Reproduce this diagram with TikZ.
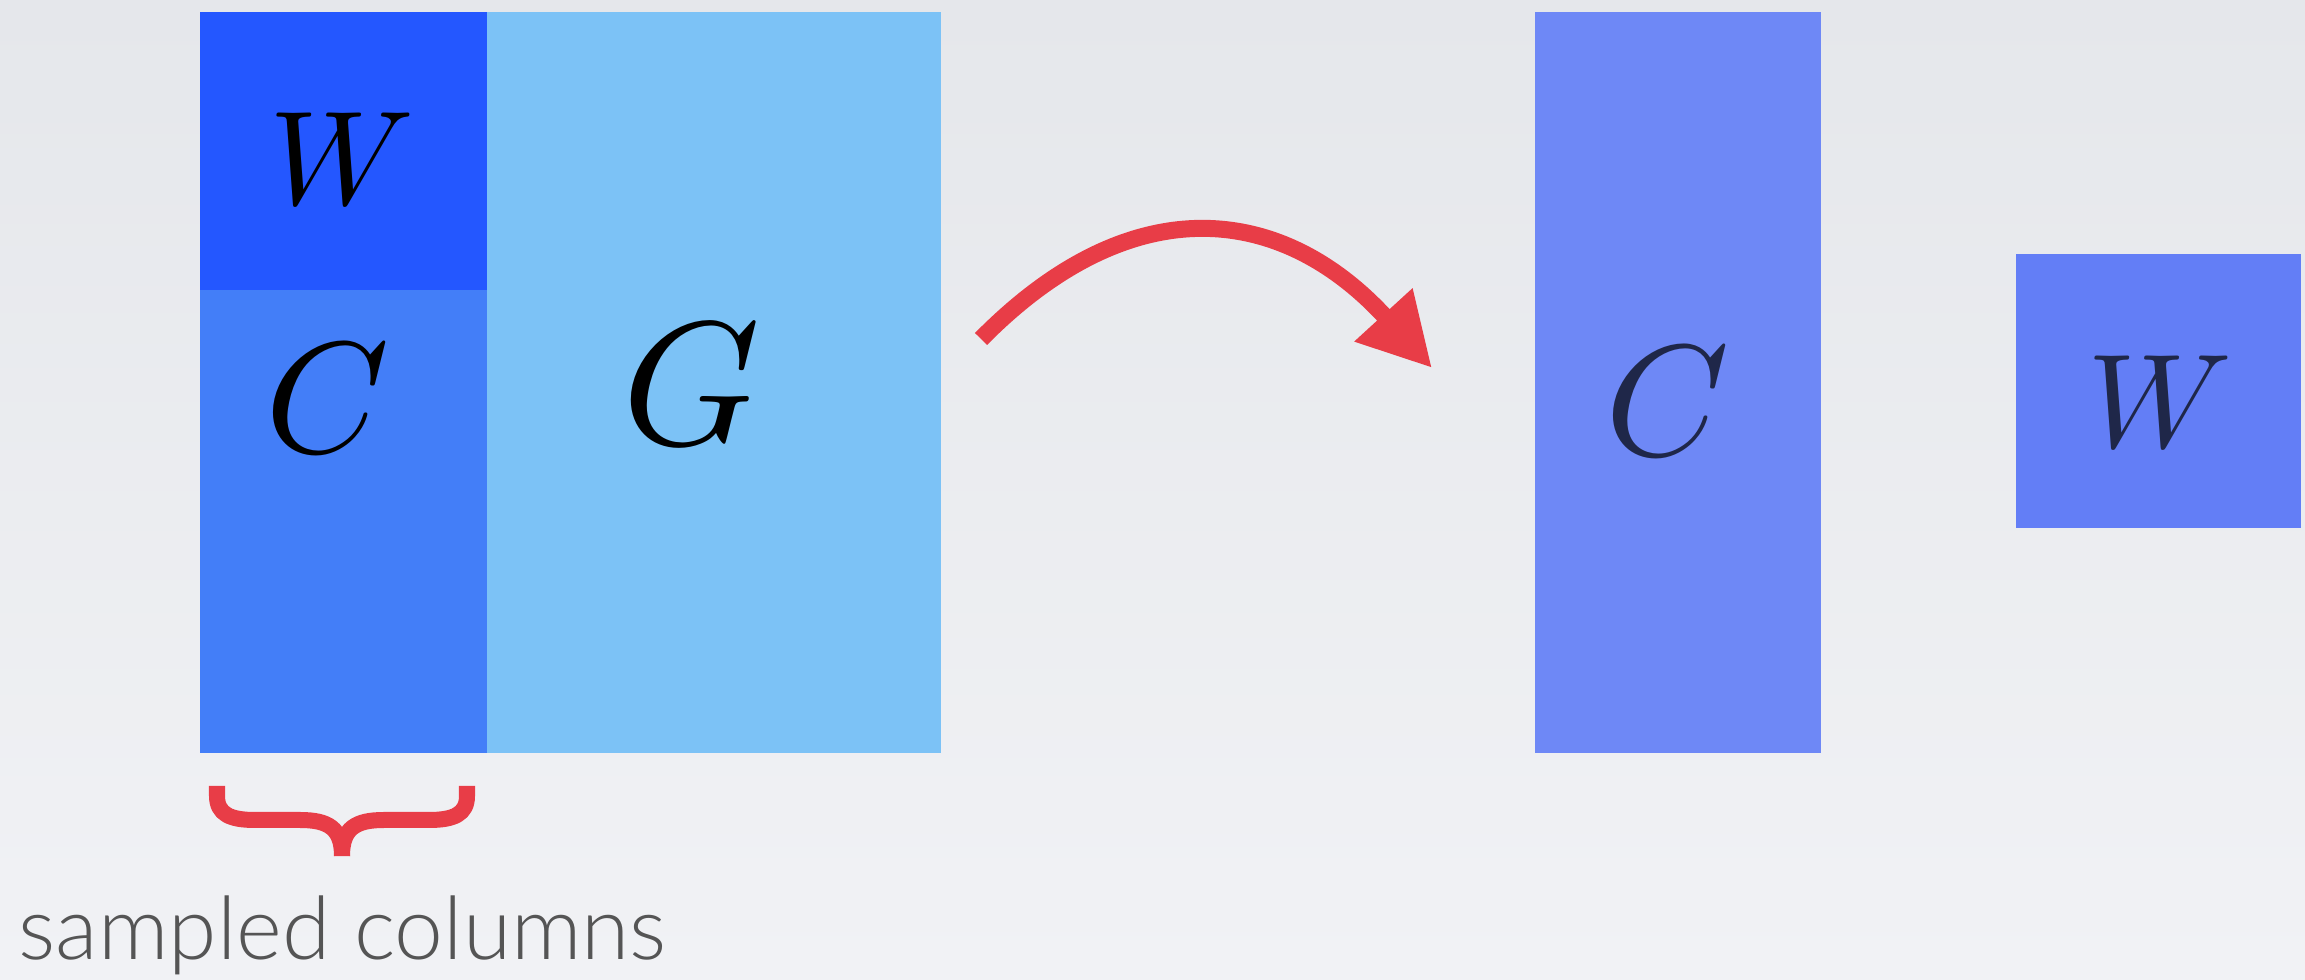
\documentclass[tikz,border=0pt]{standalone}
\usepackage{graphicx}
\usepackage{fontspec}
\newfontfamily\lblfont{Lato Light}
\usetikzlibrary{arrows.meta}
\definecolor{bgtop}{HTML}{E5E7EB}
\definecolor{bgbot}{HTML}{F1F2F5}
\definecolor{wdark}{HTML}{2457FF}
\definecolor{cmid}{HTML}{437EF8}
\definecolor{glight}{HTML}{7CC2F6}
\definecolor{cright}{HTML}{6E88F6}
\definecolor{wright}{HTML}{637EF6}
\definecolor{redarr}{HTML}{E83D47}
\definecolor{navy}{HTML}{1F2749}
\definecolor{lblgray}{HTML}{555555}
\tikzset{
  blk/.style={inner sep=0pt, outer sep=0pt, anchor=north west, draw=none},
  letter/.style={inner sep=0pt, outer sep=0pt, anchor=base},
  bracestroke/.style={draw=redarr, line width=0.16cm, line cap=butt, line join=round},
  bigarrow/.style={draw=redarr, line width=0.17cm, line cap=butt,
    -{Triangle[length=0.72cm, width=0.74cm, fill=redarr]}}
}
\begin{document}
\begin{tikzpicture}[x=0.01cm, y=-0.01cm]
\useasboundingbox (0,0) rectangle (2305,980);
\shade[top color=bgtop, bottom color=bgbot] (0,0) rectangle (2305,980);
% left matrix
\node[blk, fill=glight, minimum width=7.41cm, minimum height=7.41cm] (Gblk) at (200,12) {};
\node[blk, fill=wdark, minimum width=2.87cm, minimum height=2.78cm] (Wblk) at (200,12) {};
\node[blk, fill=cmid, minimum width=2.87cm, minimum height=4.63cm] (Cblk) at (200,290) {};
\node[letter] (Wl) at (342,205) {\scalebox{3.81}{$W$}};
\node[letter] (Cl) at (328,453) {\scalebox{4.5}{$C$}};
\node[letter] (Gl) at (692,445) {\scalebox{5.0}{$G$}};
% right blocks
\node[blk, fill=cright, minimum width=2.86cm, minimum height=7.41cm] (Crblk) at (1535,12) {};
\node[blk, fill=wright, minimum width=2.85cm, minimum height=2.74cm] (Wrblk) at (2016,254) {};
\node[letter, text=navy] (Cr) at (1668,456) {\scalebox{4.5}{$C$}};
\node[letter, text=navy] (Wr) at (2160,448) {\scalebox{3.81}{$W$}};
% arrow
\coordinate (arrS) at (981,339);
\coordinate (arrE) at (1432,368);
\draw[bigarrow] (arrS) .. controls (1131,187) and (1281,203) .. (arrE);
% brace
\draw[bracestroke] (217,786) -- (217,796) .. controls (217,814) and (230,820) .. (255,820) -- (300,820) .. controls (328,820) and (342,828) .. (342,856);
\draw[bracestroke] (467,786) -- (467,796) .. controls (467,814) and (454,820) .. (429,820) -- (384,820) .. controls (356,820) and (342,828) .. (342,856);
% label
\node[inner sep=0pt, anchor=base west, text=lblgray] (lbl) at (18,960) {\lblfont\fontsize{24.9}{28}\selectfont sampled columns};
\end{tikzpicture}
\end{document}
